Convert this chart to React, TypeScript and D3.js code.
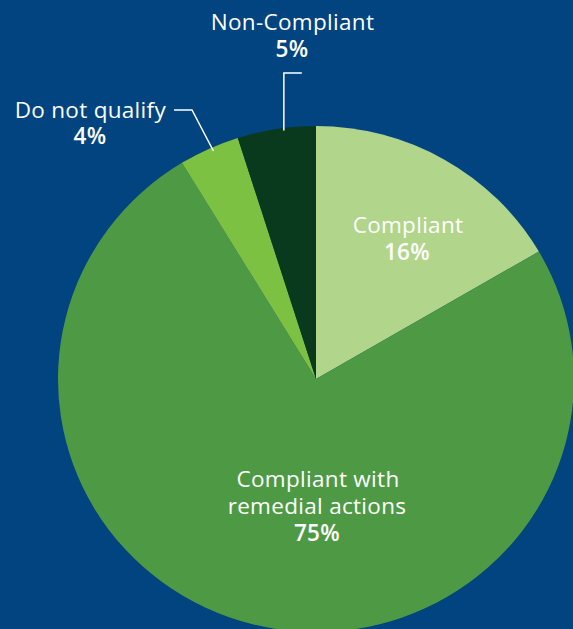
import React from "react";
import * as d3 from "d3";

const categories = ["Compliant", "Compliant with remedial actions", "Do not qualify", "Non-Compliant"];
const values = [16.6, 74.7, 3.8, 4.9];
const percentLabels = ["16%", "75%", "4%", "5%"];
const colors = ["#b1d58b", "#4e9a44", "#7cc142", "#0a3a1d"];

const W = 573;
const H = 629;
const CX = 316;
const CY = 379;
const RX = 258;
const RY = 253;
const FONT = "'Open Sans', Lato, sans-serif";

export default function App() {
  const pie = d3.pie<number>().sort(null).value((d) => d)(values);
  const arc = d3.arc<d3.PieArcDatum<number>>().innerRadius(0).outerRadius(RX);
  const pt = (angle: number, r: number) => [CX + r * Math.sin(angle), CY - (r * RY / RX) * Math.cos(angle)];

  const dnq = pie[2];
  const nc = pie[3];
  const dnqAnchor = pt(dnq.startAngle + (dnq.endAngle - dnq.startAngle) * 0.55, RX * 0.985);
  const ncAnchor = pt(nc.startAngle + (nc.endAngle - nc.startAngle) * 0.59, RX * 0.99);

  const textStyle = { fill: "#ffffff", fontFamily: FONT, fontSize: 22.5, letterSpacing: 0.3 } as const;

  return (
    <svg width={W} height={H} style={{ position: "absolute", left: 0, top: 0, display: "block" }}>
      <rect x={0} y={0} width={W} height={H} fill="#01447f" />
      <g transform={`translate(${CX},${CY}) scale(1,${RY / RX})`}>
        {pie.map((p, i) => (
          <path key={categories[i]} d={arc(p) || ""} fill={colors[i]} />
        ))}
      </g>
      <polyline
        points={`${ncAnchor[0]},${ncAnchor[1]} ${ncAnchor[0]},73 ${ncAnchor[0] + 18},73`}
        fill="none"
        stroke="#ffffff"
        strokeWidth={1.5}
      />
      <polyline
        points={`174,110 192,110 ${dnqAnchor[0]},${dnqAnchor[1]}`}
        fill="none"
        stroke="#ffffff"
        strokeWidth={1.5}
      />
      <g style={textStyle as any} textAnchor="middle">
        <text x={292.5} y={30}>{categories[3]}</text>
        <text x={292} y={57} fontWeight={600}>{percentLabels[3]}</text>
        <text x={166} y={118} textAnchor="end">{categories[2]}</text>
        <text x={90} y={144} fontWeight={600}>{percentLabels[2]}</text>
        <text x={408} y={233}>{categories[0]}</text>
        <text x={407} y={260} fontWeight={600}>{percentLabels[0]}</text>
        <text x={318} y={487}>Compliant with</text>
        <text x={317} y={514}>remedial actions</text>
        <text x={317} y={541} fontWeight={600}>{percentLabels[1]}</text>
      </g>
    </svg>
  );
}
